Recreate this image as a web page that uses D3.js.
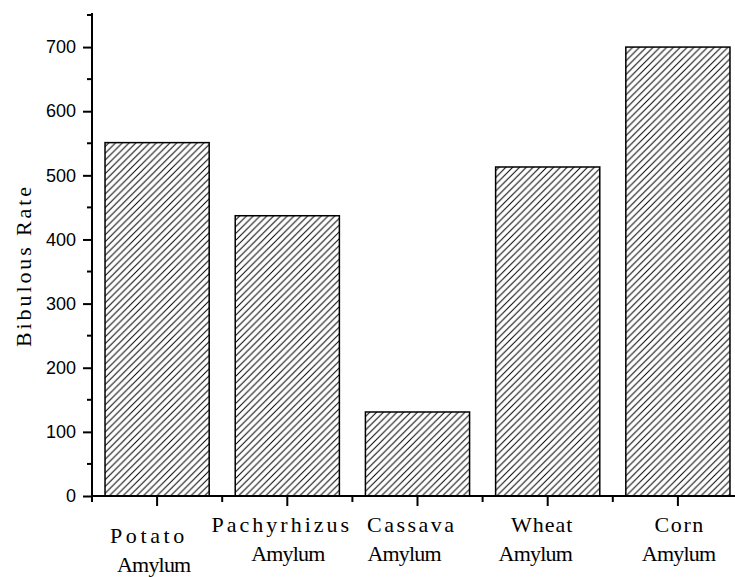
<!DOCTYPE html>
<head>
  <script src="https://cdn.jsdelivr.net/npm/d3@7"></script>
  <title>Bibulous Rate</title>
  <style>
    html, body {
      margin: 0;
      background-color: #fff;
    }
    .tick text {
      font-family: "Liberation Sans", Arial, sans-serif;
      font-size: 18px;
      fill: #000;
    }
    .cat-label, .axis-title {
      font-family: "Liberation Serif", "DejaVu Serif", serif;
      font-size: 22px;
      fill: #000;
    }
  </style>
</head>
<body>
<div id="chart"></div>
<script>
  // values
  const categories = ["Potato", "Pachyrhizus", "Cassava", "Wheat", "Corn"];
  const labelLines = [["Potato", "Amylum"], ["Pachyrhizus", "Amylum"], ["Cassava", "Amylum"], ["Wheat", "Amylum"], ["Corn", "Amylum"]];
  const bibulous = [551, 437, 131, 513, 700];
  const yTicks = [0, 100, 200, 300, 400, 500, 600, 700];

  const width = 735;
  const height = 577;
  const plotLeft = 92, plotRight = 743, plotTop = 15, plotBottom = 496;
  const charW = 12.7; // the original font is a fixed-pitch serif
  const hs = 6.8;     // hatch spacing

  const svg = d3.select("#chart").append("svg")
      .attr("width", width)
      .attr("height", height);

  // hatch fill like the original
  const hatch = svg.append("defs").append("pattern")
      .attr("id", "hatch")
      .attr("patternUnits", "userSpaceOnUse")
      .attr("width", hs)
      .attr("height", hs);
  hatch.append("rect").attr("width", hs).attr("height", hs).attr("fill", "#fff");
  hatch.append("path")
      .attr("d", `M-1,1 L1,-1 M0,${hs} L${hs},0 M${hs - 1},${hs + 1} L${hs + 1},${hs - 1}`)
      .attr("stroke", "#000")
      .attr("stroke-width", 1);

  const x = d3.scaleBand()
      .domain(categories)
      .range([plotLeft, plotRight])
      .paddingInner(0.2)
      .paddingOuter(0.1);

  const y = d3.scaleLinear()
      .domain([0, 750])
      .range([plotBottom, plotTop]);

  // bars
  svg.append("g")
    .selectAll("rect")
    .data(bibulous)
    .join("rect")
      .attr("x", (d, i) => x(categories[i]))
      .attr("y", d => y(d))
      .attr("width", x.bandwidth())
      .attr("height", d => y(0) - y(d))
      .attr("fill", "url(#hatch)")
      .attr("stroke", "#000")
      .attr("stroke-width", 1.5);

  // y axis: major + minor ticks
  const yAxis = svg.append("g")
      .attr("transform", `translate(${plotLeft},0)`)
      .call(d3.axisLeft(y).tickValues(yTicks).tickSize(9).tickPadding(7));
  yAxis.select(".domain").remove();
  yAxis.selectAll("line").attr("stroke-width", 2);

  const yMinor = d3.range(50, 800, 100);
  svg.append("g").selectAll("line")
    .data(yMinor)
    .join("line")
      .attr("x1", plotLeft - 5).attr("x2", plotLeft)
      .attr("y1", d => y(d)).attr("y2", d => y(d))
      .attr("stroke", "#000").attr("stroke-width", 2);

  svg.append("line")
      .attr("x1", plotLeft).attr("x2", plotLeft)
      .attr("y1", y(750) - 2).attr("y2", plotBottom)
      .attr("stroke", "#000").attr("stroke-width", 2);

  // x axis
  svg.append("line")
      .attr("x1", plotLeft).attr("x2", plotRight)
      .attr("y1", plotBottom).attr("y2", plotBottom)
      .attr("stroke", "#000").attr("stroke-width", 2);

  svg.append("g").selectAll("line")
    .data(categories)
    .join("line")
      .attr("x1", d => x(d) + x.bandwidth() / 2)
      .attr("x2", d => x(d) + x.bandwidth() / 2)
      .attr("y1", plotBottom).attr("y2", plotBottom + 10)
      .attr("stroke", "#000").attr("stroke-width", 2);

  svg.append("g").selectAll("line")
    .data(d3.range(categories.length + 1))
    .join("line")
      .attr("x1", i => plotLeft + i * (plotRight - plotLeft) / categories.length)
      .attr("x2", i => plotLeft + i * (plotRight - plotLeft) / categories.length)
      .attr("y1", plotBottom).attr("y2", plotBottom + 6)
      .attr("stroke", "#000").attr("stroke-width", 2);

  // category labels, two lines each (Potato sits a bit lower in the original)
  const labelDrop = [11, 0, 0, 0, 0];
  const labelNudge = [[-9, -2], [-6, 2], [-6, -12], [-5, -11], [2, 2]];
  const lineData = [];
  labelLines.forEach((lines, i) => lines.forEach((t, k) => lineData.push({
    t, cx: x(categories[i]) + x.bandwidth() / 2 + labelNudge[i][k],
    by: 532 + labelDrop[i] + k * 29
  })));
  svg.append("g")
    .selectAll("text")
    .data(lineData)
    .join("text")
      .attr("class", "cat-label")
      .attr("x", d => d.cx - d.t.length * charW / 2)
      .attr("y", d => d.by)
      .attr("textLength", d => d.t.length * charW - 2)
      .attr("lengthAdjust", "spacing")
      .text(d => d.t);

  // y axis title
  svg.append("text")
      .attr("class", "axis-title")
      .attr("transform", `translate(31,${267 + 13 * 12.3 / 2}) rotate(-90)`)
      .attr("textLength", 13 * 12.3)
      .attr("lengthAdjust", "spacing")
      .text("Bibulous Rate");
</script>
</body>
